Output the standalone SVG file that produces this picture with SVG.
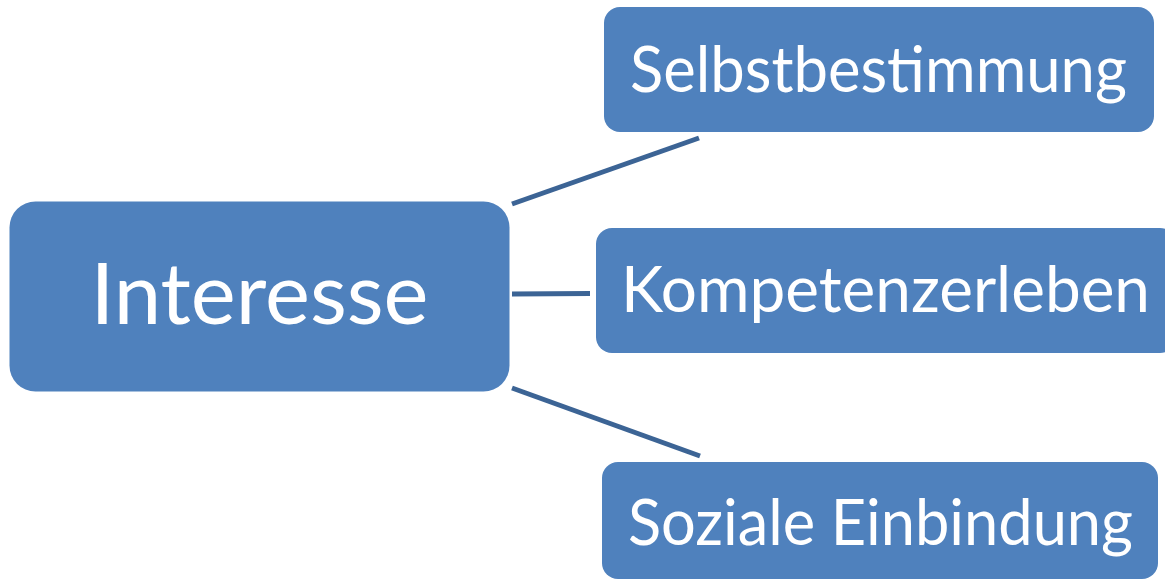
<svg xmlns="http://www.w3.org/2000/svg" width="1165" height="582" viewBox="0 0 1165 582">
<style>
.box{fill:#4f81bd;}
.lbl{fill:#ffffff;font-family:Lato,"Open Sans","DejaVu Sans",sans-serif;text-anchor:middle;}
.big{font-size:86px;}
.sm{font-size:64px;}
.con{stroke:#3c6495;stroke-width:5;fill:none;}
</style>
<rect width="1165" height="582" fill="#ffffff"/>
<g id="connectors">
<line class="con" x1="512" y1="204" x2="699" y2="138"/>
<line class="con" x1="512" y1="294" x2="590" y2="293.5"/>
<line class="con" x1="512" y1="388" x2="700" y2="456"/>
</g>
<g id="node-interesse">
<rect class="box" x="9.5" y="201.5" width="500" height="190" rx="26"/>
<text class="lbl big" x="259.5" y="324" textLength="338" lengthAdjust="spacingAndGlyphs">Interesse</text>
</g>
<g id="node-selbstbestimmung">
<rect class="box" x="604" y="7" width="550" height="125" rx="16"/>
<text class="lbl sm" x="878.5" y="92" textLength="497" lengthAdjust="spacingAndGlyphs">Selbstbestimmung</text>
</g>
<g id="node-kompetenzerleben">
<rect class="box" x="596" y="228" width="580" height="125" rx="16"/>
<text class="lbl sm" x="885.5" y="312" textLength="529" lengthAdjust="spacingAndGlyphs">Kompetenzerleben</text>
</g>
<g id="node-soziale">
<rect class="box" x="602" y="462" width="556" height="117" rx="16"/>
<text class="lbl sm" x="880.5" y="545" textLength="505" lengthAdjust="spacingAndGlyphs">Soziale Einbindung</text>
</g>
</svg>
